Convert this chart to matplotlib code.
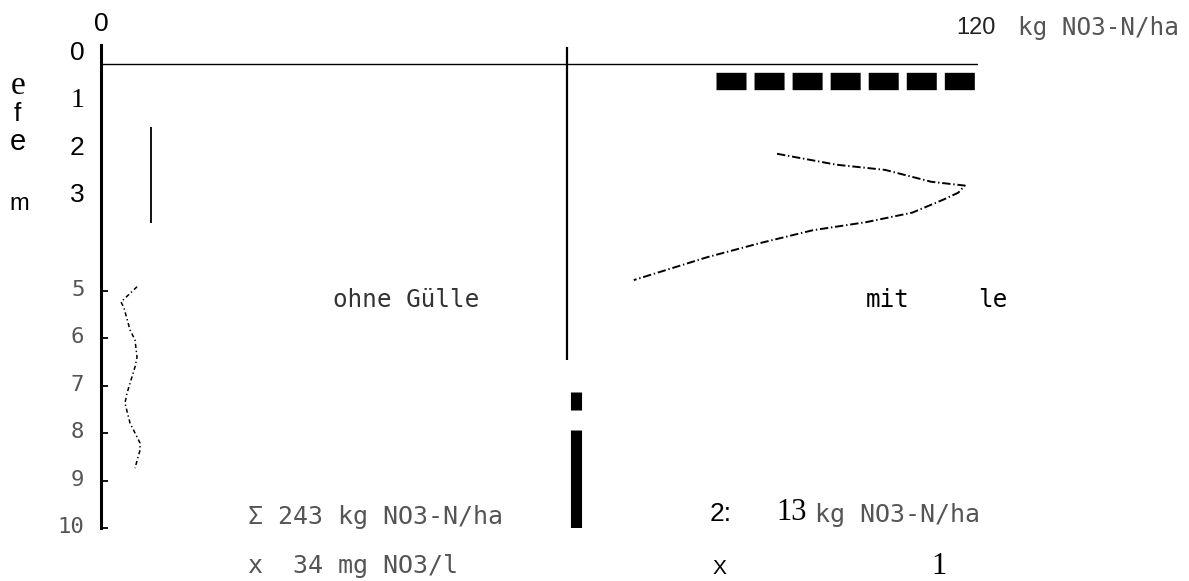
import matplotlib
matplotlib.use("Agg")
import matplotlib.pyplot as plt
from matplotlib.transforms import ScaledTranslation

plt.rcParams['lines.scale_dashes'] = False

# ---- data ----
depth_ticks = [0, 1, 2, 3, 5, 6, 7, 8, 9, 10]
depth_ticklabels = ['0', '1', '2', '3', '5', '6', '7', '8', '9', '10']
minor_ticks = [5, 6, 7, 8, 9, 10]

# ohne Gülle profile (kg NO3-N/ha vs depth dm)
ohne_depth = [4.92, 5.24, 5.37, 5.83, 6.04, 6.40, 6.61, 7.16, 7.37, 7.79, 8.21, 8.36, 8.74]
ohne_no3 = [4.93, 2.74, 3.15, 3.97, 4.65, 4.93, 4.65, 3.56, 3.28, 3.97, 5.34, 5.34, 4.65]
ohne_bar_x = 6.9
ohne_bar_depth = (1.56, 3.58)

# mit Gülle profile
mit_depth = [2.12, 2.35, 2.46, 2.71, 2.79, 2.94, 3.09, 3.36, 3.56, 3.73, 4.00, 4.30, 4.78]
mit_no3 = [92.5, 100.6, 107.3, 113.6, 118.2, 117.3, 115.2, 111.0, 104.7, 97.4, 90.2, 82.9, 72.9]
mit_bar_x = (84.2, 120.0)
mit_bar_depth = 0.58

divider_x = 63.8
divider_depth = (-0.13, 6.46)
center_bar_x = 65.0
center_bar_segments = [(7.13, 7.51), (7.94, 10.0)]
top_line_depth = 0.23

W, H = 1189, 581
fig = plt.figure(figsize=(W / 100, H / 100), dpi=100)
fig.patch.set_facecolor('white')

ax_l, ax_r, ax_t, ax_b = 101, 978, 45, 528
ax = fig.add_axes([ax_l / W, 1 - ax_b / H, (ax_r - ax_l) / W, (ax_b - ax_t) / H])
ax.set_xlim(0, 120)
ax.set_ylim(10, -0.17)
for s in ['top', 'right', 'bottom']:
    ax.spines[s].set_visible(False)
ax.spines['left'].set_linewidth(2.2)
ax.set_xticks([])

ax.yaxis.remove_overlapping_locs = False
ax.set_yticks(depth_ticks)
ax.set_yticklabels(depth_ticklabels)
ax.set_yticks(minor_ticks, minor=True)
ax.tick_params(axis='y', which='major', length=0, pad=12)
ax.tick_params(axis='y', which='minor', length=5, width=1.3, direction='in')

# top horizontal line
ax.axhline(top_line_depth, color='black', lw=1.0, xmin=0, xmax=1)

# divider
ax.vlines(divider_x, divider_depth[0], divider_depth[1], color='black', lw=1.6)
for a, b in center_bar_segments:
    ax.vlines(center_bar_x, a, b, color='black', lw=8)

# ohne Gülle
ax.vlines(ohne_bar_x, ohne_bar_depth[0], ohne_bar_depth[1], color='black', lw=1.3)
ax.plot(ohne_no3, ohne_depth, color='black', lw=1.1, linestyle=(0, (3, 2, 1, 2)))

# mit Gülle
ax.plot(mit_bar_x, [mit_bar_depth, mit_bar_depth], color='black', lw=12.5,
        dashes=(21.6, 5.8), dash_capstyle='butt', solid_capstyle='butt')
ax.plot(mit_no3, mit_depth, color='black', lw=1.4, linestyle=(0, (6, 2, 1, 2)))


def t(x, y, s, **kw):
    fig.text(x / W, 1 - y / H, s, **kw)


# top labels
t(101, 24, '0', fontsize=19, family='Liberation Sans', ha='center', va='center')
t(956, 28, '120', fontsize=17, family='Liberation Sans', ha='left', va='center', color='#222222')
t(1018, 28, 'kg NO3-N/ha', fontsize=17.5, family='DejaVu Sans Mono', ha='left', va='center', color='#555555')

# left axis title remnants
t(18, 86, 'e', fontsize=24, family='Liberation Serif', ha='center', va='center')
t(17, 114, 'f', fontsize=19, family='Liberation Sans', ha='center', va='center')
t(18, 142, 'e', fontsize=21, family='Liberation Sans', ha='center', va='center')
t(19, 204, 'm', fontsize=17, family='Liberation Sans', ha='center', va='center')

# panel labels
t(333, 300, 'ohne Gülle', fontsize=17.5, family='DejaVu Sans Mono', ha='left', va='center', color='#333333')
t(866, 300, 'mit', fontsize=17.5, family='DejaVu Sans Mono', ha='left', va='center')
t(978, 300, 'le', fontsize=17.5, family='DejaVu Sans Mono', ha='left', va='center')

# summary texts
t(248, 517, 'Σ 243 kg NO3-N/ha', fontsize=18, family='DejaVu Sans Mono', ha='left', va='center', color='#555555')
t(248, 566, 'x  34 mg NO3/l', fontsize=18, family='DejaVu Sans Mono', ha='left', va='center', color='#555555')
t(710, 514, '2:', fontsize=19, family='Liberation Sans', ha='left', va='center')
t(776, 512, '13', fontsize=22, family='Liberation Serif', ha='left', va='center')
t(815, 515, 'kg NO3-N/ha', fontsize=18, family='DejaVu Sans Mono', ha='left', va='center', color='#555555')
t(719, 568, 'X', fontsize=15, family='Liberation Sans', ha='center', va='center')
t(939, 567, '1', fontsize=22, family='Liberation Serif', ha='center', va='center')

# style tick labels last (shift up a few pixels like the reference)
shift = ScaledTranslation(0, 3 / 100, fig.dpi_scale_trans)
for lab, txt in zip(ax.get_yticklabels(), depth_ticklabels):
    if txt == '1':
        lab.set_fontfamily('Liberation Serif')
        lab.set_fontsize(20)
    elif txt in ('0', '2', '3'):
        lab.set_fontfamily('Liberation Sans')
        lab.set_fontsize(19)
    else:
        lab.set_fontfamily('DejaVu Sans Mono')
        lab.set_fontsize(16)
        lab.set_color('#555555')
    lab.set_transform(lab.get_transform() + shift)

fig.savefig('out.png', dpi=100, facecolor='white')
